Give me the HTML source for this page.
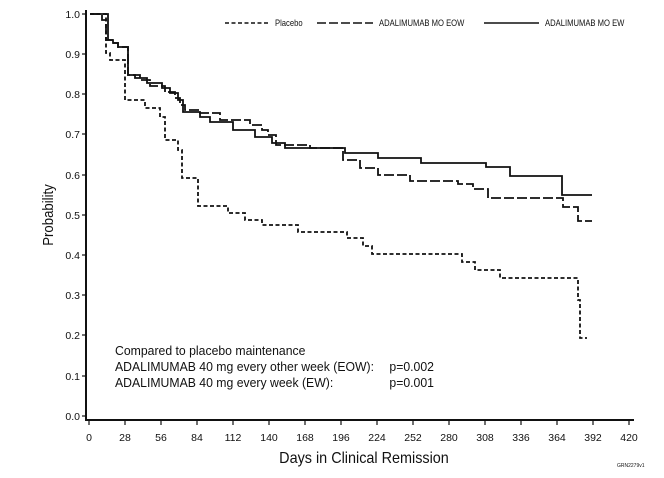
<!DOCTYPE html>
<html><head><meta charset="utf-8"><style>
html,body{margin:0;padding:0;background:#fff;}
svg{display:block;}
text{font-family:"Liberation Sans",sans-serif;fill:#111;}
</style></head><body>
<svg width="664" height="478" viewBox="0 0 664 478">
<g stroke="#111" stroke-width="2" fill="none">
<line x1="86" y1="10" x2="86" y2="421"/>
<line x1="85" y1="420" x2="634" y2="420"/>
</g>
<g stroke="#111" stroke-width="1.2">
<line x1="82" y1="14" x2="86" y2="14"/><line x1="82" y1="54" x2="86" y2="54"/><line x1="82" y1="94" x2="86" y2="94"/><line x1="82" y1="134" x2="86" y2="134"/><line x1="82" y1="175" x2="86" y2="175"/><line x1="82" y1="215" x2="86" y2="215"/><line x1="82" y1="255" x2="86" y2="255"/><line x1="82" y1="295" x2="86" y2="295"/><line x1="82" y1="335" x2="86" y2="335"/><line x1="82" y1="376" x2="86" y2="376"/><line x1="82" y1="416" x2="86" y2="416"/>
</g>
<g font-size="10.5" text-anchor="end">
<text x="80" y="18">1.0</text><text x="80" y="58">0.9</text><text x="80" y="98">0.8</text><text x="80" y="138">0.7</text><text x="80" y="179">0.6</text><text x="80" y="219">0.5</text><text x="80" y="259">0.4</text><text x="80" y="299">0.3</text><text x="80" y="339">0.2</text><text x="80" y="380">0.1</text><text x="80" y="420">0.0</text>
</g>
<g stroke="#111" stroke-width="1.2">
<line x1="89" y1="420" x2="89" y2="425"/><line x1="125" y1="420" x2="125" y2="425"/><line x1="161" y1="420" x2="161" y2="425"/><line x1="197" y1="420" x2="197" y2="425"/><line x1="233" y1="420" x2="233" y2="425"/><line x1="269" y1="420" x2="269" y2="425"/><line x1="305" y1="420" x2="305" y2="425"/><line x1="341" y1="420" x2="341" y2="425"/><line x1="377" y1="420" x2="377" y2="425"/><line x1="413" y1="420" x2="413" y2="425"/><line x1="449" y1="420" x2="449" y2="425"/><line x1="485" y1="420" x2="485" y2="425"/><line x1="521" y1="420" x2="521" y2="425"/><line x1="557" y1="420" x2="557" y2="425"/><line x1="593" y1="420" x2="593" y2="425"/><line x1="629" y1="420" x2="629" y2="425"/>
</g>
<g font-size="10.5" text-anchor="middle">
<text x="89" y="441">0</text><text x="125" y="441">28</text><text x="161" y="441">56</text><text x="197" y="441">84</text><text x="233" y="441">112</text><text x="269" y="441">140</text><text x="305" y="441">168</text><text x="341" y="441">196</text><text x="377" y="441">224</text><text x="413" y="441">252</text><text x="449" y="441">280</text><text x="485" y="441">308</text><text x="521" y="441">336</text><text x="557" y="441">364</text><text x="593" y="441">392</text><text x="629" y="441">420</text>
</g>
<text x="364" y="463" font-size="16" text-anchor="middle" transform="translate(364,0) scale(0.9,1) translate(-364,0)">Days in Clinical Remission</text>
<text x="0" y="0" font-size="15" text-anchor="middle" transform="translate(53,215) rotate(-90) scale(0.88,1)">Probability</text>
<text x="617" y="467" font-size="5">GRN2279v1</text>
<g font-size="12.5" transform="translate(115,0) scale(0.98,1)">
<text x="0" y="355">Compared to placebo maintenance</text>
<text x="0" y="371">ADALIMUMAB 40 mg every other week (EOW):</text>
<text x="0" y="387">ADALIMUMAB 40 mg every week (EW):</text>
<text x="280" y="371">p=0.002</text>
<text x="280" y="387">p=0.001</text>
</g>
<g stroke="#111" stroke-width="1.6" fill="none">
<line x1="225" y1="23" x2="270" y2="23" stroke-dasharray="4,2.5"/>
<line x1="317" y1="23" x2="373" y2="23" stroke-dasharray="9,3"/>
<line x1="484" y1="23" x2="539" y2="23"/>
</g>
<g font-size="9">
<text x="275" y="26" transform="translate(275,0) scale(0.85,1) translate(-275,0)">Placebo</text>
<text x="379" y="26" transform="translate(379,0) scale(0.85,1) translate(-379,0)">ADALIMUMAB MO EOW</text>
<text x="545" y="26" transform="translate(545,0) scale(0.85,1) translate(-545,0)">ADALIMUMAB MO EW</text>
</g>
<g fill="none" stroke="#111" stroke-width="1.8">
<path d="M90,14 H108 V40 H113 V43 H118 V47 H128 V75 H135 V78 H147 V83 H162 V88 H170 V93 H178 V100 H183 V112 H200 V117 H210 V122 H233 V130 H255 V137 H272 V143 H285 V148 H345 V153 H378 V158 H421 V163 H486 V167 H510 V176 H562 V195 H592"/>
<path stroke-dasharray="10,3" d="M90,14 H102 V20 H106 V40 H113 V43 H118 V47 H128 V75 H140 V80 H150 V86 H165 V92 H175 V98 H180 V105 H185 V110 H200 V113 H220 V120 H250 V125 H262 V130 H268 V135 H276 V145 H310 V148 H343 V160 H360 V168 H378 V175 H410 V181 H458 V184 H473 V189 H488 V198 H563 V207 H578 V221 H592"/>
<path stroke-dasharray="4,2.5" d="M90,14 H106 V53 H110 V60 H125 V100 H145 V108 H160 V117 H165 V140 H178 V150 H182 V178 H198 V206 H228 V213 H245 V220 H262 V225 H298 V232 H347 V238 H363 V246 H372 V254 H462 V262 H475 V270 H500 V278 H578 V300 H580 V338 H587"/>
</g>
</svg>
</body></html>
